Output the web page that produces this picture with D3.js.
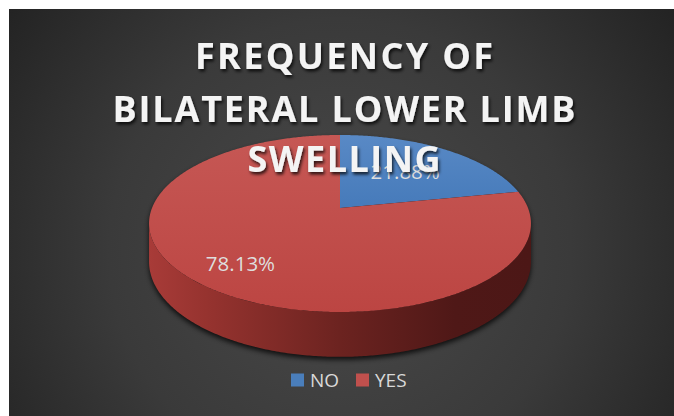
<!DOCTYPE html>
<html>
<head>
<meta charset="utf-8">
<script src="https://cdn.jsdelivr.net/npm/d3@7"></script>
<style>
  html, body { margin: 0; padding: 0; background: #ffffff; }
  svg { display: block; }
</style>
</head>
<body>
<svg id="chart" width="674" height="416"></svg>
<script>
// Chart data
const categories = ["NO", "YES"];
const values = [21.88, 78.13];
const titleLines = ["FREQUENCY OF", "BILATERAL LOWER LIMB", "SWELLING"];

const svg = d3.select("#chart");
const W = 674, H = 416;

// ---- definitions: gradients and filters ----
const defs = svg.append("defs");

const bg = defs.append("radialGradient").attr("id", "bgGrad")
  .attr("gradientUnits", "userSpaceOnUse")
  .attr("cx", 340).attr("cy", 250).attr("r", 420);
bg.append("stop").attr("offset", 0).attr("stop-color", "#4a4a4a");
bg.append("stop").attr("offset", 0.55).attr("stop-color", "#3a3a3a");
bg.append("stop").attr("offset", 1).attr("stop-color", "#222222");

const topRed = defs.append("linearGradient").attr("id", "topRed")
  .attr("gradientUnits", "userSpaceOnUse").attr("x1", 0).attr("y1", 130).attr("x2", 0).attr("y2", 315);
topRed.append("stop").attr("offset", 0).attr("stop-color", "#c65855");
topRed.append("stop").attr("offset", 1).attr("stop-color", "#bc4542");

const topBlue = defs.append("linearGradient").attr("id", "topBlue")
  .attr("gradientUnits", "userSpaceOnUse").attr("x1", 0).attr("y1", 130).attr("x2", 0).attr("y2", 215);
topBlue.append("stop").attr("offset", 0).attr("stop-color", "#5a8ac6");
topBlue.append("stop").attr("offset", 1).attr("stop-color", "#4479b9");

const sideRed = defs.append("linearGradient").attr("id", "sideRed")
  .attr("gradientUnits", "userSpaceOnUse").attr("x1", 149).attr("y1", 0).attr("x2", 531).attr("y2", 0);
[[0, "#a83b38"], [0.15, "#96332f"], [0.5, "#6c2320"], [0.8, "#4f1817"], [1, "#4c1716"]]
  .forEach(([o, c]) => sideRed.append("stop").attr("offset", o).attr("stop-color", c));

const sideBlue = defs.append("linearGradient").attr("id", "sideBlue")
  .attr("gradientUnits", "userSpaceOnUse").attr("x1", 149).attr("y1", 0).attr("x2", 531).attr("y2", 0);
sideBlue.append("stop").attr("offset", 0).attr("stop-color", "#3a5f8c");
sideBlue.append("stop").attr("offset", 1).attr("stop-color", "#1c2f47");

const blur = defs.append("filter").attr("id", "pieShadow")
  .attr("x", "-20%").attr("y", "-20%").attr("width", "140%").attr("height", "140%");
blur.append("feGaussianBlur").attr("stdDeviation", 2.5);

const txtShadow = defs.append("filter").attr("id", "textShadow")
  .attr("x", "-10%").attr("y", "-30%").attr("width", "120%").attr("height", "160%");
txtShadow.append("feDropShadow").attr("dx", 1.5).attr("dy", 2.5)
  .attr("stdDeviation", 1.8).attr("flood-color", "#000").attr("flood-opacity", 0.75);

// ---- background ----
svg.append("rect").attr("x", 9).attr("y", 9).attr("width", W - 9).attr("height", H - 9)
  .attr("fill", "url(#bgGrad)");

// ---- 3D pie projection ----
const cx = 340, cy = 208;       // projected pie centre
const A = 188, B = 85.8;        // horizontal / depth radii
const k = 0.175;                // perspective factor
const T = 37;                   // thickness

function proj(theta, f, depth) {
  const u = f * Math.sin(theta), v = f * Math.cos(theta);
  const d = 1 + k * v;
  return [cx + A * u / d, cy - B * v / d + depth * T / d];
}
function arcPts(a0, a1, f, depth) {
  const n = Math.max(2, Math.ceil(Math.abs(a1 - a0) / 0.01));
  return d3.range(n + 1).map(i => proj(a0 + (a1 - a0) * i / n, f, depth));
}

const pie = d3.pie().sort(null).value(d => d)(values);
const topFills = ["url(#topBlue)", "url(#topRed)"];
const sideFills = ["url(#sideBlue)", "url(#sideRed)"];
const line = d3.line();

// visible front band of the side wall
const visA = Math.acos(-k), visB = 2 * Math.PI - Math.acos(-k);

// soft shadow under the disc
const shadowPts = arcPts(visA, visB, 1, 1).map(p => [p[0], p[1] + 3])
  .concat(arcPts(visB, visA + 2 * Math.PI, 1, 0).map(p => [p[0], p[1] + 3]));
svg.append("path").attr("d", line(shadowPts) + "Z")
  .attr("fill", "#000").attr("opacity", 0.75).attr("filter", "url(#pieShadow)");

// side walls
pie.forEach((s, i) => {
  const a0 = Math.max(s.startAngle, visA), a1 = Math.min(s.endAngle, visB);
  if (a1 <= a0) return;
  const pts = arcPts(a0, a1, 1, 0).concat(arcPts(a1, a0, 1, 1));
  svg.append("path").attr("d", line(pts) + "Z").attr("fill", sideFills[i]);
});

// top faces
pie.forEach((s, i) => {
  const pts = [proj(0, 0, 0)].concat(arcPts(s.startAngle, s.endAngle, 1, 0));
  svg.append("path").attr("d", line(pts) + "Z").attr("fill", topFills[i]);
});

// value labels
const labelRadius = [0.59, 0.75];
pie.forEach((s, i) => {
  const mid = (s.startAngle + s.endAngle) / 2;
  const p = proj(mid, labelRadius[i], 0);
  svg.append("text").attr("x", p[0]).attr("y", p[1] + 7.5)
    .attr("text-anchor", "middle")
    .attr("font-family", "'Open Sans', sans-serif").attr("font-size", 20.5)
    .attr("fill", "#dedede")
    .text(values[i].toFixed(2) + "%");
});

// ---- title ----
const titleBase = [69, 122, 172];
const titleWidth = [298, 463, 193];
titleLines.forEach((t, i) => {
  svg.append("text").attr("x", 344).attr("y", titleBase[i])
    .attr("text-anchor", "middle")
    .attr("font-family", "'Open Sans', sans-serif").attr("font-weight", 700)
    .attr("font-size", 36)
    .attr("textLength", titleWidth[i]).attr("lengthAdjust", "spacing")
    .attr("fill", "#f4f4f4").attr("filter", "url(#textShadow)")
    .text(t);
});

// ---- legend ----
const legendColors = ["#4a7ebb", "#c0504d"];
const legendX = [291, 356];
categories.forEach((c, i) => {
  svg.append("rect").attr("x", legendX[i]).attr("y", 373.5).attr("width", 13).attr("height", 13)
    .attr("fill", legendColors[i]);
  svg.append("text").attr("x", legendX[i] + 19).attr("y", 387)
    .attr("font-family", "'Open Sans', sans-serif").attr("font-size", 19)
    .attr("fill", "#d9d9d9").text(c);
});
</script>
</body>
</html>
